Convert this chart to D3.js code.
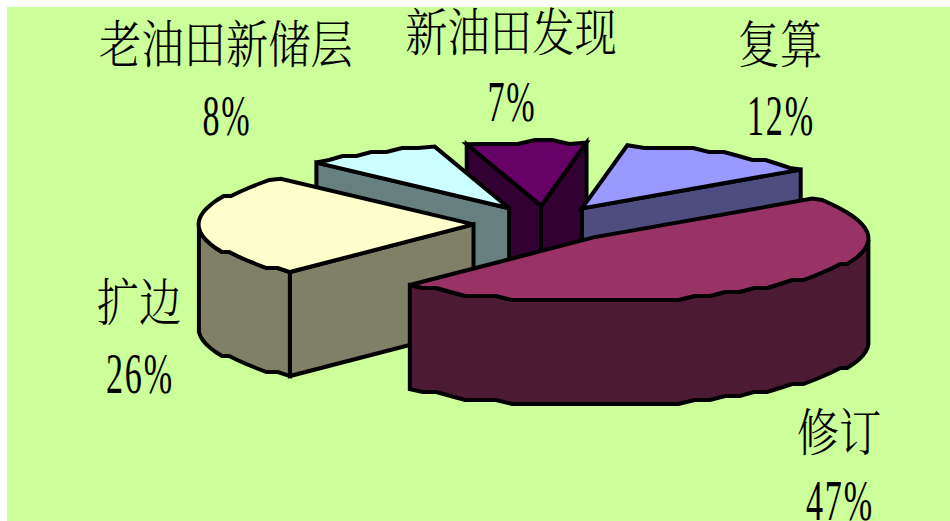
<!DOCTYPE html>
<html>
<head>
<meta charset="utf-8">
<script src="https://cdn.jsdelivr.net/npm/d3@7"></script>
<style>
html,body{margin:0;padding:0;background:#fff;overflow:hidden}
svg{display:block}
.name{font-family:"Noto Serif CJK SC","Noto Sans CJK SC",serif;font-weight:300;font-size:47px;fill:#000}
.pct{font-family:"Liberation Serif",serif;font-size:55px;fill:#000;letter-spacing:3px}
</style>
</head>
<body>
<svg id="chart" width="950" height="521"></svg>
<script>
// Reserve categories, clockwise from the first slice
const categories = ["复算", "修订", "扩边", "老油田新储层", "新油田发现"];
const shares = [12, 47, 26, 8, 7];
const topColors = ["#9999FF", "#993366", "#FFFFCC", "#CCFFFF", "#660066"];
const wallColors = ["#4D4D80", "#4D1A33", "#808066", "#668080", "#330033"];
// Label centres and the baselines of the name and percentage lines
const labelX = [780, 839, 139, 226, 511];
const nameY = [63, 451, 321, 63, 51];
const pctY = [135, 520, 393, 135, 121];
// Painting order, back to front
const paintOrder = [4, 3, 0, 2, 1];

const width = 950, height = 521;
const svg = d3.select("#chart");

svg.append("rect").attr("x", 7).attr("y", 7)
  .attr("width", width - 7).attr("height", height - 7).attr("fill", "#CCFF99");

const startDeg = 9.5;
const pie = d3.pie().sort(null).value(d => d)
  .startAngle(startDeg * Math.PI / 180)
  .endAngle((startDeg + 360) * Math.PI / 180);
const arcs = pie(shares);

// Oblique projection of the unit disc
const px = d3.scaleLinear().domain([-1, 1]).range([545 - 275, 545 + 275]);
const py = d3.scaleLinear().domain([-1, 1]).range([224 - 64, 224 + 64]);
const explode = 0.26, explodeY = 0.285;
const depth = 104;
const stepY = 4;
const stepAngle = 3.5 * Math.PI / 180;

const line = d3.line().curve(d3.curveLinear);
const closed = pts => line(pts) + "Z";

function slice(a) {
  const mid = (a.startAngle + a.endAngle) / 2;
  const ox = px(explode * Math.sin(mid)) - px(0);
  const oy = py(-explodeY * Math.cos(mid)) - py(0);
  const apex = [px(0) + ox, py(0) + oy];
  // Rim is sampled coarsely and snapped vertically, giving its stepped outline
  const n = Math.max(2, Math.round((a.endAngle - a.startAngle) / stepAngle));
  const rim = d3.range(n + 1).map(i => {
    const t = a.startAngle + (a.endAngle - a.startAngle) * i / n;
    const x = px(Math.sin(t)) + ox;
    const y = py(-Math.cos(t)) + oy;
    return {t, p: [x, (i === 0 || i === n) ? y : Math.round(y / stepY) * stepY]};
  });
  return {apex, rim};
}
const down = p => [p[0], p[1] + depth];

const g = svg.append("g")
  .attr("stroke", "#000").attr("stroke-width", 4).attr("stroke-linejoin", "miter");

paintOrder.forEach(i => {
  const {apex, rim} = slice(arcs[i]);
  const points = rim.map(r => r.p);
  const first = points[0], last = points[points.length - 1];
  // Cut faces, drawn only when they turn towards the viewer
  if (Math.sin(arcs[i].startAngle) < 0) {
    g.append("path").attr("fill", wallColors[i])
      .attr("d", closed([apex, first, down(first), down(apex)]));
  }
  if (Math.sin(arcs[i].endAngle) > 0) {
    g.append("path").attr("fill", wallColors[i])
      .attr("d", closed([apex, last, down(last), down(apex)]));
  }
  // Outer wall, the part of the rim on the near side
  const front = rim.filter(r => Math.cos(r.t) <= 0).map(r => r.p);
  if (front.length > 1) {
    g.append("path").attr("fill", wallColors[i])
      .attr("d", closed(front.concat(front.slice().reverse().map(down))));
  }
  // Top face
  g.append("path").attr("fill", topColors[i])
    .attr("d", closed([apex].concat(points)));
});

// Labels: tall, narrow lettering
categories.forEach((c, i) => {
  svg.append("text").attr("class", "name").attr("text-anchor", "middle")
    .attr("transform", `translate(${labelX[i]},${nameY[i]}) scale(0.9,1.08)`)
    .text(c);
  svg.append("text").attr("class", "pct").attr("text-anchor", "middle")
    .attr("transform", `translate(${labelX[i] + 1},${pctY[i]}) scale(0.62,1.03)`)
    .text(shares[i] + "%");
});
</script>
</body>
</html>
